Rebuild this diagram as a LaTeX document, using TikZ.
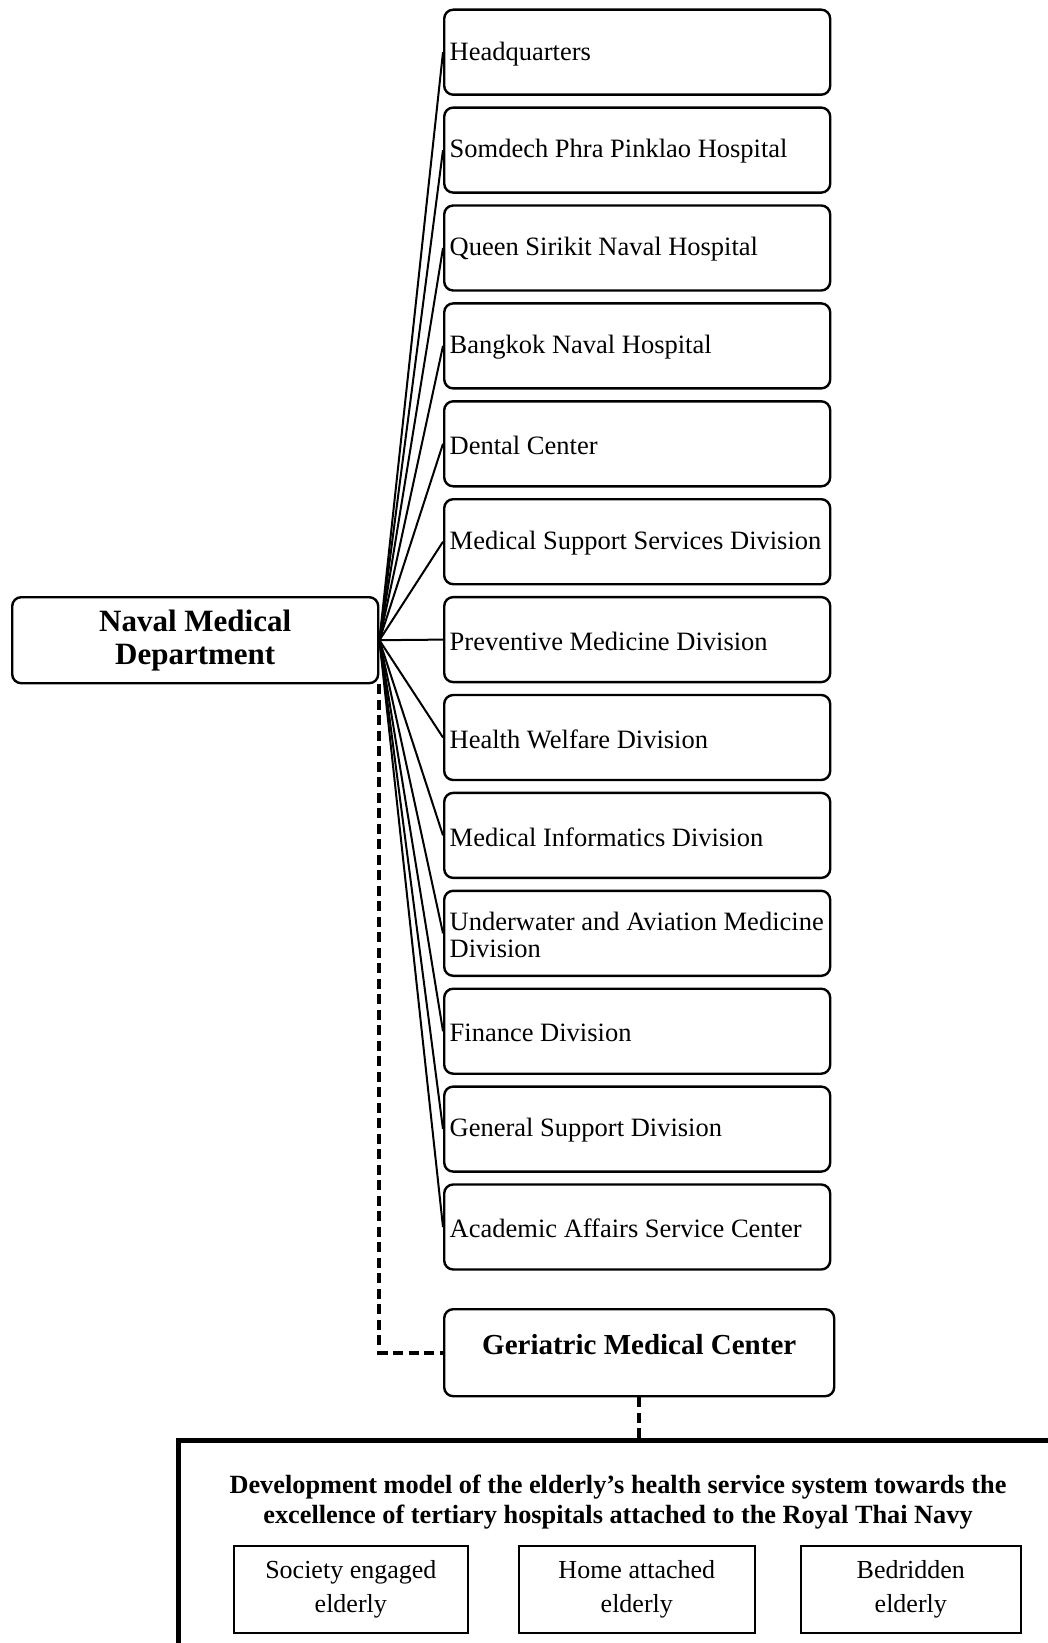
\documentclass[tikz,border=0pt]{standalone}
\usepackage{fontspec}
\setmainfont{Liberation Serif}
\begin{document}
\begin{tikzpicture}[x=1pt,y=-1pt,
  unitbox/.style={draw, line width=2.4pt, rounded corners=9pt, minimum width=386pt, minimum height=85pt, inner sep=0pt, anchor=north west},
  unittext/.style={anchor=west, align=left, inner sep=0pt, font=\fontsize{26.5}{27}\selectfont},
  conn/.style={line width=2pt},
  dashline/.style={line width=4pt, dash pattern=on 10pt off 5.5pt},
  elderbox/.style={draw, line width=1.6pt, minimum height=87pt, inner sep=0pt, anchor=north west, align=center, font=\fontsize{26}{34}\selectfont}
]
\clip (0,0) rectangle (1048,1643);
\fill[white] (0,0) rectangle (1048,1643);

\node[draw, line width=2.4pt, rounded corners=9pt, minimum width=366pt, minimum height=86pt, inner sep=0pt, anchor=north west, align=center, font=\fontsize{31}{33}\selectfont\bfseries] (naval) at (11,596) {Naval Medical\\Department};

\foreach \i/\t in {0/Headquarters, 1/Somdech Phra Pinklao Hospital, 2/Queen Sirikit Naval Hospital, 3/Bangkok Naval Hospital, 4/Dental Center, 5/Medical Support Services Division, 6/Preventive Medicine Division, 7/Health Welfare Division, 8/Medical Informatics Division, 9/{Underwater and Aviation Medicine\\Division}, 10/Finance Division, 11/General Support Division, 12/Academic Affairs Service Center}{
  \node[unitbox] (u\i) at (443, 8.5+\i*97.9) {};
  \node[unittext] (t\i) at ([xshift=6.5pt,yshift=-1.5pt]u\i.west) {\t};
  \draw[conn] (naval.east) -- (u\i.west);
}

\node[draw, line width=2.4pt, rounded corners=9pt, minimum width=390pt, minimum height=87pt, inner sep=0pt, anchor=north west] (ger) at (443,1308) {};
\node[inner sep=0pt, font=\fontsize{29}{29}\selectfont\bfseries] (gertext) at ([yshift=8pt]ger.center) {Geriatric Medical Center};

\draw[dashline] (naval.south east) |- (ger.west);

\node[draw, line width=4.5pt, minimum width=900pt, minimum height=240pt, inner sep=0pt, anchor=north west] (model) at (176,1438) {};
\draw[dashline] (ger.south) -- (ger.south |- model.north);

\node[align=center, inner sep=0pt, font=\fontsize{26.3}{30}\selectfont\bfseries] (title) at (618,1502) {Development model of the elderly’s health service system towards the\\excellence of tertiary hospitals attached to the Royal Thai Navy};

\node[elderbox, minimum width=234pt] (e1) at (233,1545) {Society engaged\\elderly};
\node[elderbox, minimum width=236pt] (e2) at (518,1545) {Home attached\\elderly};
\node[elderbox, minimum width=220pt] (e3) at (800,1545) {Bedridden\\elderly};
\end{tikzpicture}
\end{document}
